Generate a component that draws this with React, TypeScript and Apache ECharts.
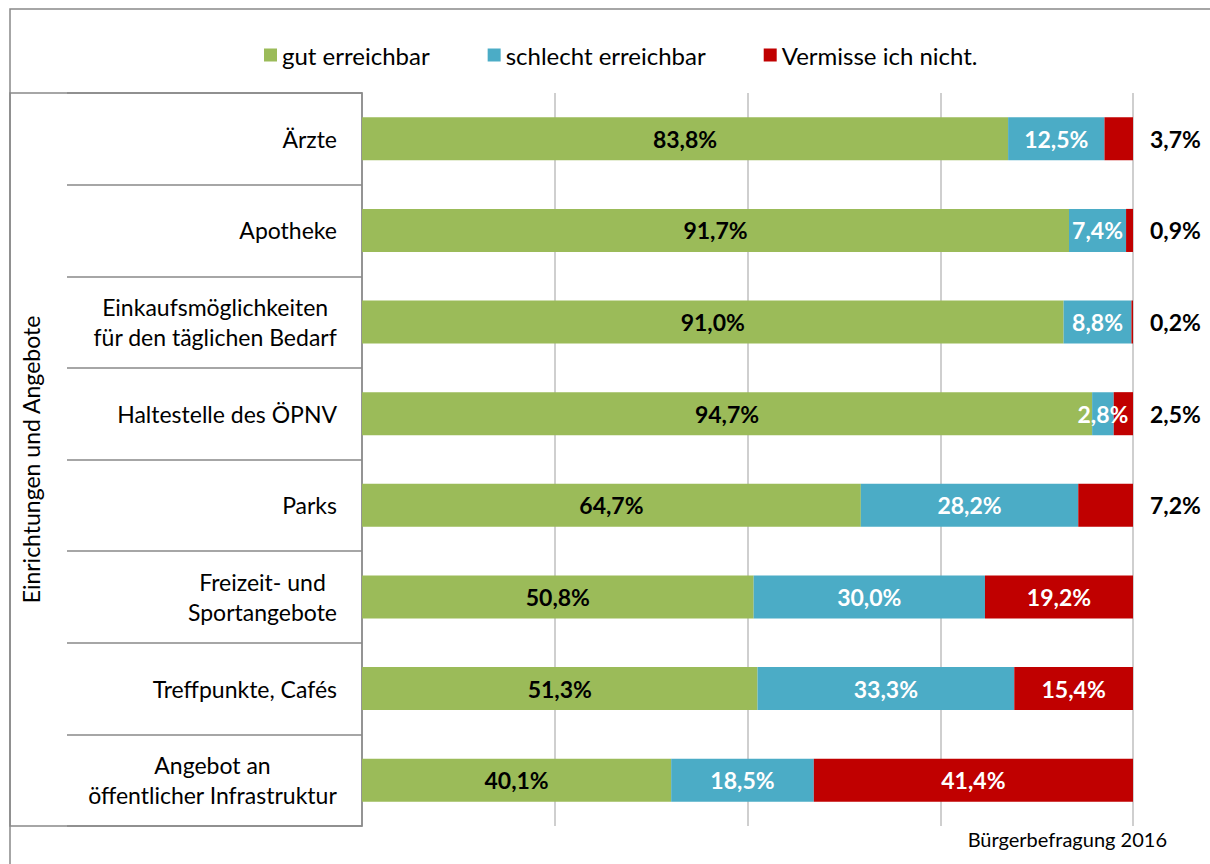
import React, { useEffect, useRef } from "react";
import * as echarts from "echarts";

const categories = [
  "Ärzte",
  "Apotheke",
  "Einkaufsmöglichkeiten\nfür den täglichen Bedarf",
  "Haltestelle des ÖPNV",
  "Parks",
  "Freizeit- und\nSportangebote",
  "Treffpunkte, Cafés",
  "Angebot an\nöffentlicher Infrastruktur",
];
const seriesNames = ["gut erreichbar", "schlecht erreichbar", "Vermisse ich nicht."];
const gut = [83.8, 91.7, 91.0, 94.7, 64.7, 50.8, 51.3, 40.1];
const schlecht = [12.5, 7.4, 8.8, 2.8, 28.2, 30.0, 33.3, 18.5];
const vermisse = [3.7, 0.9, 0.2, 2.5, 7.2, 19.2, 15.4, 41.4];
const axisName = "Einrichtungen und Angebote";
const footer = "Bürgerbefragung 2016";

const FONT = "Lato";
const fmt = (v: number) => v.toFixed(1).replace(".", ",") + "%";

export default function App() {
  const ref = useRef<HTMLDivElement>(null);
  useEffect(() => {
    if (!ref.current) return;
    const chart = echarts.init(ref.current, null, { renderer: "svg" });
    const labelBase = {
      show: true,
      position: "inside" as const,
      fontFamily: FONT,
      fontSize: 23,
      fontWeight: "bold" as const,
      formatter: (p: any) => fmt(p.value),
    };
    chart.setOption({
      animation: false,
      textStyle: { fontFamily: FONT },
      legend: {
        top: 38,
        left: 259,
        itemWidth: 13,
        itemHeight: 13,
        itemGap: 58,
        icon: "rect",
        textStyle: { fontFamily: FONT, fontSize: 24, color: "#000" },
        data: seriesNames,
      },
      grid: { left: 362, right: 77, top: 93, bottom: 38, containLabel: false },
      xAxis: {
        type: "value",
        min: 0,
        max: 100,
        interval: 25,
        axisLabel: { show: false },
        axisLine: { show: false },
        axisTick: { show: false },
        splitLine: { lineStyle: { color: "#BFBFBF", width: 1.5 } },
      },
      yAxis: {
        type: "category",
        inverse: true,
        data: categories,
        name: axisName,
        nameLocation: "middle",
        nameRotate: 90,
        nameGap: 320,
        nameTextStyle: { fontFamily: FONT, fontSize: 23, color: "#000" },
        axisLine: { show: true, lineStyle: { color: "#898989", width: 1.5 } },
        axisTick: { show: true, length: 295, lineStyle: { color: "#898989", width: 1.5 } },
        axisLabel: {
          margin: 25,
          align: "right",
          fontFamily: FONT,
          fontSize: 23,
          color: "#000",
          lineHeight: 30,
          formatter: (v: string) => v.split("\n").map((l) => "{c|" + l + "}").join("\n"),
          rich: { c: { align: "center", fontFamily: FONT, fontSize: 23, color: "#000", lineHeight: 30 } },
        },
      },
      series: [
        {
          name: seriesNames[0],
          type: "bar",
          stack: "all",
          barWidth: "47%",
          itemStyle: { color: "#9BBB59" },
          label: { ...labelBase, color: "#000" },
          data: gut,
        },
        {
          name: seriesNames[1],
          type: "bar",
          stack: "all",
          itemStyle: { color: "#4BACC6" },
          label: { ...labelBase, color: "#fff" },
          data: schlecht,
        },
        {
          name: seriesNames[2],
          type: "bar",
          stack: "all",
          itemStyle: { color: "#C00000" },
          label: { ...labelBase, color: "#fff" },
          data: vermisse.map((v) =>
            v < 10
              ? { value: v, label: { position: "right", distance: 17, color: "#000" } }
              : { value: v }
          ),
        },
      ],
      graphic: [
        {
          type: "rect",
          shape: { x: 10, y: 9, width: 1400, height: 1000 },
          style: { fill: "none", stroke: "#898989", lineWidth: 1.5 },
          silent: true,
        },
        {
          type: "rect",
          shape: { x: 10, y: 93, width: 352, height: 733 },
          style: { fill: "none", stroke: "#898989", lineWidth: 1.5 },
          silent: true,
        },
        {
          type: "text",
          x: 1167,
          y: 839,
          style: {
            text: footer,
            fontFamily: FONT,
            fontSize: 20,
            fill: "#000",
            textAlign: "right",
            textVerticalAlign: "middle",
          },
        },
      ],
    });
    return () => chart.dispose();
  }, []);
  return (
    <div
      ref={ref}
      style={{ position: "absolute", left: 0, top: 0, width: 1210, height: 864, background: "#fff" }}
    />
  );
}
